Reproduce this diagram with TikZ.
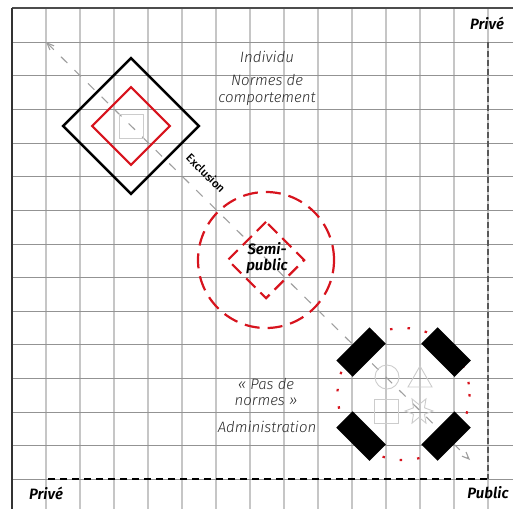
\documentclass[tikz,border=0pt]{standalone}
\usepackage{fontspec}
\setmainfont{Fira Sans}[ItalicFont={Fira Sans Light Italic}, BoldItalicFont={Fira Sans SemiBold Italic}]
\newfontfamily\medfont{Fira Sans Medium}
\usepackage{tikz}
\usetikzlibrary{shapes.geometric, arrows.meta}
\definecolor{rouge}{HTML}{D7141E}
\definecolor{grille}{HTML}{C6C6C6}
\definecolor{encre}{HTML}{2A2A2A}

\begin{document}
\begin{tikzpicture}[x=1pt, y=-1pt,
    gridv/.style={grille, line width=1.2pt},
    gridh/.style={gray!85, line width=0.8pt},
    txt/.style={font=\itshape\fontsize{15}{16.5}\selectfont, text=encre, align=center, inner sep=0pt},
    corner/.style={font=\bfseries\itshape\fontsize{15}{16.5}\selectfont, text=black, align=center, inner sep=0pt},
    bloc/.style={fill=black, minimum width=47pt, minimum height=23pt, inner sep=0pt},
    icone/.style={draw=gray!40, line width=0.9pt, inner sep=0pt}]
    \useasboundingbox (0,0) rectangle (513,509);

    % Grille
    \foreach \i in {0,...,13} \draw[gridv] (46+34*\i,8) -- (46+34*\i,509);
    \foreach \j in {0,...,13} \draw[gridh] (12,42+33.65*\j) -- (513,42+33.65*\j);

    % Cadre
    \draw[black!70, line width=2pt] (12,8) -- (513,8);
    \draw[black!80, line width=1.5pt] (12,8) -- (12,509);

    % Limites prive / public
    \coordinate (coinpub) at (488,479);
    \draw[black!65, line width=1.6pt, dash pattern=on 6pt off 3pt] (488,42) -- (coinpub);
    \draw[black, line width=1.3pt, dash pattern=on 7pt off 5pt] (48,479) -- (coinpub);

    % Axe d'exclusion
    \coordinate (exclA) at (46,42);
    \coordinate (exclB) at (470,460);
    \draw[gray!75, line width=1.1pt, dash pattern=on 9pt off 10pt,
        {Straight Barb[angle'=45, length=7pt]}-{Straight Barb[angle'=45, length=7pt]}] (exclA) -- (exclB);
    \node[font=\medfont\fontsize{11.5}{13}\selectfont, rotate=-45, inner sep=0pt] (exclusion) at (206,173) {Exclusion};

    % Individu
    \coordinate (indiv) at (131,126);
    \node[draw, line width=2.4pt, minimum size=96pt, rotate=45, inner sep=0pt] (carreN) at (indiv) {};
    \node[draw=rouge, line width=2.2pt, minimum size=55pt, rotate=45, inner sep=0pt] (carreR) at (indiv) {};
    \node[icone, minimum size=24pt] (carreG) at (indiv) {};
    \node[txt] (individu) at (267,57) {Individu};
    \node[txt] (normes) at (267,90) {Normes de\\comportement};

    % Semi-public
    \coordinate (semi) at (266,260);
    \node[circle, draw=rouge, line width=2.2pt, dash pattern=on 15pt off 8pt, minimum size=136pt, inner sep=0pt] (cercleS) at (semi) {};
    \node[draw=rouge, line width=2.2pt, dash pattern=on 13pt off 7pt, minimum size=54pt, rotate=45, inner sep=0pt] (carreS) at (semi) {};
    \node[corner] (semitxt) at (267,258) {Semi-\\public};

    % Administration
    \coordinate (admin) at (403.5,394);
    \draw[rouge, line width=2.2pt, dash pattern=on 2.5pt off 15pt] (admin) circle[radius=66];
    \node[bloc, rotate=45] (blocNO) at (361,352) {};
    \node[bloc, rotate=-45] (blocNE) at (446,352) {};
    \node[bloc, rotate=-45] (blocSO) at (361,436) {};
    \node[bloc, rotate=45] (blocSE) at (446,436) {};
    \node[icone, circle, minimum size=24pt] (rond) at (387,377) {};
    \draw[icone] (408,387) -- (420,366) -- (432,387) -- cycle;
    \node[icone, minimum size=24pt] (carre) at (386,411) {};
    \node[icone, star, star points=6, star point ratio=2.2, minimum size=28pt, rotate=30] (etoile) at (419,411) {};
    \node[txt] (pasnormes) at (266,392) {«~Pas de\\normes~»};
    \node[txt] (administration) at (267,427) {Administration};

    % Etiquettes des coins
    \node[corner] (priveH) at (487,23) {Privé};
    \node[corner] (priveB) at (46,493) {Privé};
    \node[corner] (public) at (488,493) {Public};
\end{tikzpicture}
\end{document}
